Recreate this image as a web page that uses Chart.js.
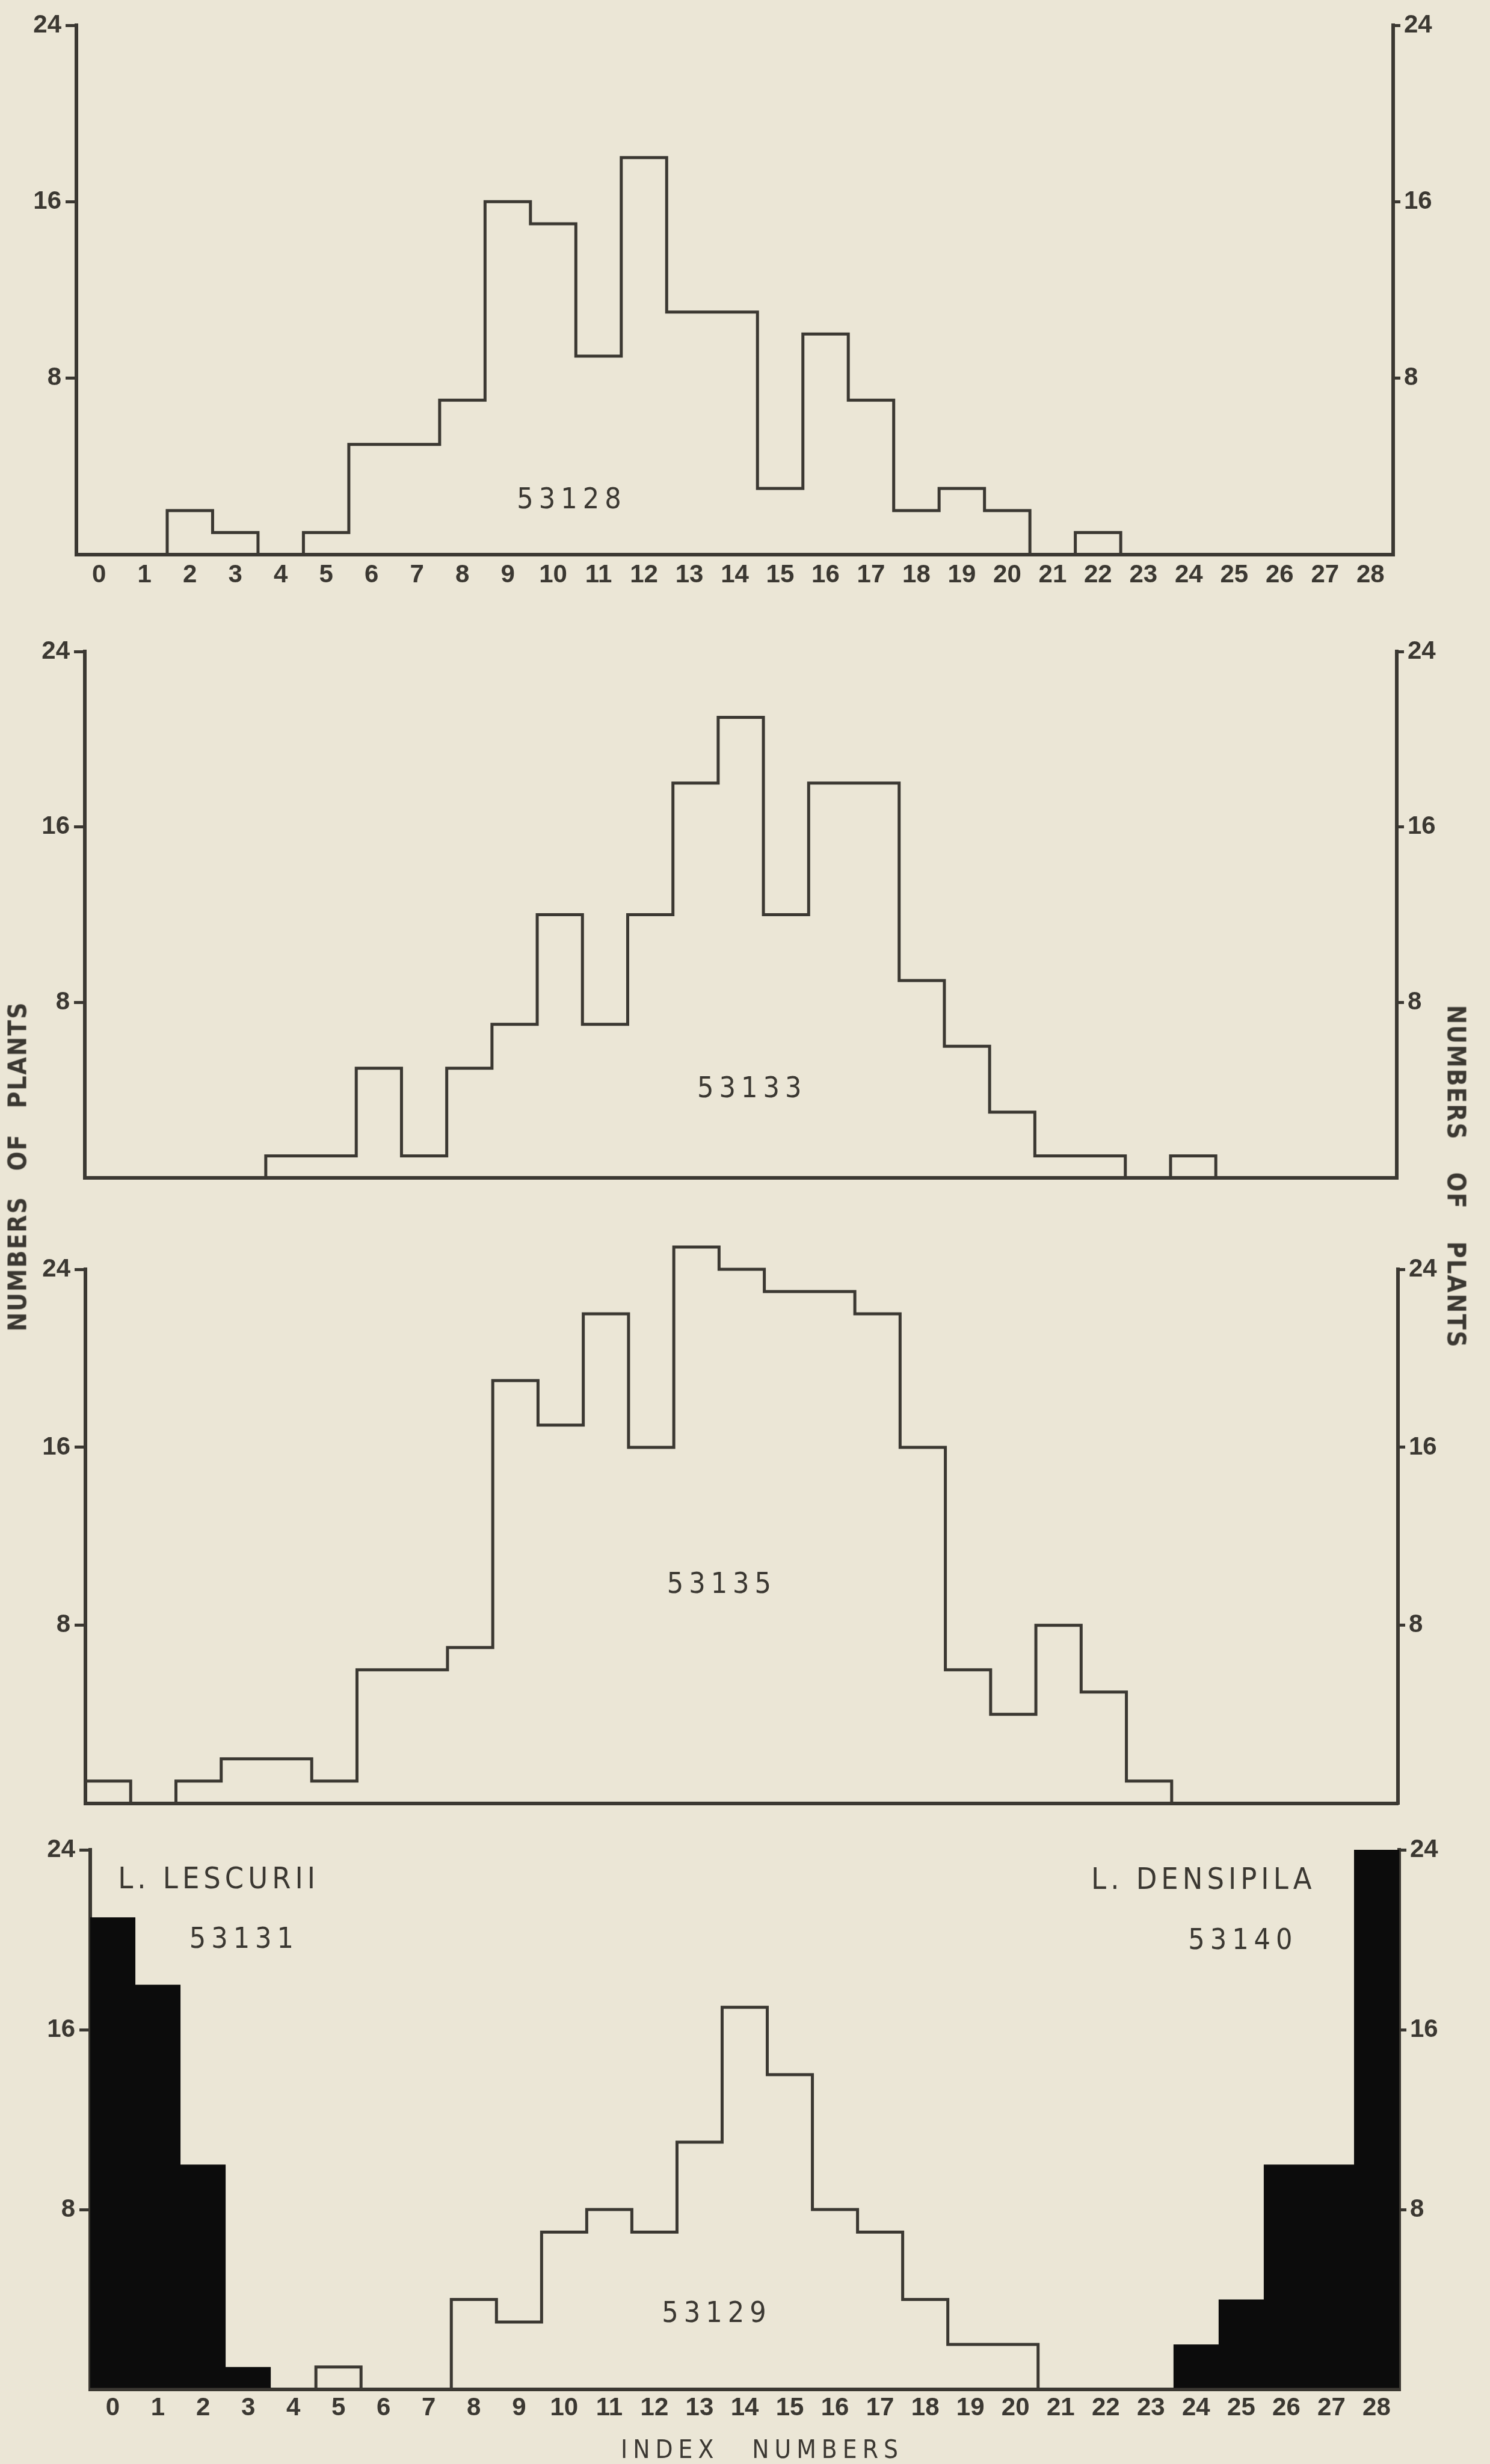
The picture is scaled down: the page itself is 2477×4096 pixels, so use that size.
<!DOCTYPE html>
<html>
<head>
<meta charset="utf-8">
<script src="https://cdn.jsdelivr.net/npm/chart.js@4.4.1/dist/chart.umd.min.js"></script>
<style>
html, body { margin: 0; padding: 0; background: #ebe6d6; }
body { width: 2477px; height: 4096px; position: relative; overflow: hidden; }
canvas { position: absolute; left: 0; }
.t { position: absolute; white-space: nowrap; color: #3b3832; line-height: 1; }
</style>
</head>
<body>
<canvas id="c1" width="2477" height="1000" style="top:0px"></canvas>
<canvas id="c2" width="2477" height="1000" style="top:1000px"></canvas>
<canvas id="c3" width="2477" height="1000" style="top:2030px"></canvas>
<canvas id="c4" width="2477" height="1066" style="top:3030px"></canvas>

<div class="t" id="ylabL" style="left:29px; top:1939px; transform:translate(-50%,-50%) rotate(-90deg); font:bold 42px 'Liberation Sans Narrow','DejaVu Sans Condensed','Liberation Sans',sans-serif; letter-spacing:2px; word-spacing:27px;">NUMBERS OF PLANTS</div>
<div class="t" id="ylabR" style="left:2421px; top:1956px; transform:translate(-50%,-50%) rotate(90deg); font:bold 42px 'Liberation Sans Narrow','DejaVu Sans Condensed','Liberation Sans',sans-serif; letter-spacing:2px; word-spacing:38px;">NUMBERS OF PLANTS</div>
<div class="t" id="xlab" style="left:1267px; top:4071px; transform:translate(-50%,-50%); font:42px 'Liberation Sans Narrow','DejaVu Sans Condensed','Liberation Sans',sans-serif; letter-spacing:9px; word-spacing:34px;">INDEX NUMBERS</div>

<script>
// ---- data ----
const indexNumbers = [0,1,2,3,4,5,6,7,8,9,10,11,12,13,14,15,16,17,18,19,20,21,22,23,24,25,26,27,28];
const yTickValues = [8, 16, 24];

const counts53128 = [0,0,2,1,0,1,5,5,7,16,15,9,18,11,11,3,10,7,2,3,2,0,1,0,0,0,0,0,0];
const counts53133 = [0,0,0,0,1,1,5,1,5,7,12,7,12,18,21,12,18,18,9,6,3,1,1,0,1,0,0,0,0];
const counts53135 = [1,0,1,2,2,1,6,6,7,19,17,22,16,25,24,23,23,22,16,6,4,8,5,1,0,0,0,0,0];
const counts53129 = [0,0,0,0,0,1,0,0,4,3,7,8,7,11,17,14,8,7,4,2,2,0,0,0,0,0,0,0,0];
const countsLescurii53131  = [21,18,10,1,0,0,0,0,0,0,0,0,0,0,0,0,0,0,0,0,0,0,0,0,0,0,0,0,0];
const countsDensipila53140 = [0,0,0,0,0,0,0,0,0,0,0,0,0,0,0,0,0,0,0,0,0,0,0,0,2,4,10,10,24];

// ---- styling ----
const INK = '#3b3832';
const BLACK = '#0c0c0c';
const W = 2477;
const NARROW = "'Liberation Sans Narrow','DejaVu Sans Condensed','Liberation Sans',sans-serif";
const TICKFONT = "'Liberation Sans','DejaVu Sans',sans-serif";

// histogram bins as a stepped line: each value holds across its bin [i-0.5, i+0.5]
function stepPoints(values) {
  const pts = values.map((v, i) => ({ x: indexNumbers[i] - 0.5, y: v }));
  pts.push({ x: indexNumbers[indexNumbers.length - 1] + 0.5, y: 0 });
  return pts;
}

const panelTextPlugin = {
  id: 'panelText',
  afterDatasetsDraw(chart, args, opts) {
    const ctx = chart.ctx;
    const xs = chart.scales.x, ys = chart.scales.y;
    (opts.items || []).forEach(it => {
      ctx.save();
      ctx.font = it.font;
      ctx.fillStyle = INK;
      ctx.textAlign = 'center';
      ctx.textBaseline = 'middle';
      const sp = it.spacing || 0;
      ctx.letterSpacing = sp + 'px';
      ctx.fillText(it.text, xs.getPixelForValue(it.x) + sp / 2, ys.getPixelForValue(it.y));
      ctx.restore();
    });
  }
};

const NUMFONT = "48px " + NARROW;
const NAMEFONT = "50px " + NARROW;

const panels = [
  { id: 'c1', top: 0, height: 1000, T: 42, B: 922, L: 127, R: 2316, xLabels: true, xPad: 9,
    series: [{ label: '53128', values: counts53128, fill: false }],
    texts: [{ text: '53128', x: 10.35, y: 2.45, font: NUMFONT, spacing: 9 }] },
  { id: 'c2', top: 1000, height: 1000, T: 1083, B: 1958, L: 141, R: 2322, xLabels: false, xPad: 0,
    series: [{ label: '53133', values: counts53133, fill: false }],
    texts: [{ text: '53133', x: 14.19, y: 4.03, font: NUMFONT, spacing: 9 }] },
  { id: 'c3', top: 2030, height: 1000, T: 2110, B: 2998, L: 142, R: 2324, xLabels: false, xPad: 0,
    series: [{ label: '53135', values: counts53135, fill: false }],
    texts: [{ text: '53135', x: 13.5, y: 9.78, font: NUMFONT, spacing: 9 }] },
  { id: 'c4', top: 3030, height: 1066, T: 3075, B: 3972, L: 150, R: 2326, xLabels: true, xPad: 6,
    series: [
      { label: 'L. LESCURII 53131', values: countsLescurii53131, fill: true },
      { label: 'L. DENSIPILA 53140', values: countsDensipila53140, fill: true },
      { label: '53129', values: counts53129, fill: false }
    ],
    texts: [
      { text: '53129', x: 13.32, y: 3.32, font: NUMFONT, spacing: 9 },
      { text: 'L. LESCURII', x: 2.30, y: 22.64, font: NAMEFONT, spacing: 7 },
      { text: '53131', x: 2.85, y: 19.96, font: NUMFONT, spacing: 9 },
      { text: 'L. DENSIPILA', x: 24.12, y: 22.61, font: NAMEFONT, spacing: 7 },
      { text: '53140', x: 24.98, y: 19.91, font: NUMFONT, spacing: 9 }
    ] }
];

function yAxis(position, widthFn, tickLen, pad) {
  return {
    type: 'linear', position: position, min: 0, max: 24,
    afterBuildTicks: s => { s.ticks = yTickValues.map(v => ({ value: v })); },
    afterFit: s => { s.width = widthFn(); },
    grid: { drawOnChartArea: false, drawTicks: true, tickLength: tickLen, color: INK, lineWidth: 5 },
    border: { display: true, color: INK, width: 6 },
    ticks: { padding: pad, color: INK, font: { family: TICKFONT, weight: 'bold', size: 42 }, callback: v => String(v) }
  };
}

panels.forEach(p => {
  const datasets = p.series.map(s => ({
    label: s.label,
    data: stepPoints(s.values),
    stepped: 'before',
    borderColor: s.fill ? BLACK : INK,
    borderWidth: s.fill ? 0 : 5,
    backgroundColor: BLACK,
    fill: s.fill ? 'origin' : false,
    pointRadius: 0,
    tension: 0,
    clip: false,
    yAxisID: 'y',
    xAxisID: 'x',
    order: s.fill ? 2 : 1
  }));
  new Chart(document.getElementById(p.id), {
    type: 'line',
    data: { datasets },
    options: {
      responsive: false,
      animation: false,
      events: [],
      layout: { padding: { top: p.T - p.top, left: 0, right: 0, bottom: 0 } },
      plugins: {
        legend: { display: false },
        tooltip: { enabled: false },
        panelText: { items: p.texts }
      },
      scales: {
        x: {
          type: 'linear', min: -0.5, max: 28.5,
          afterBuildTicks: s => { s.ticks = indexNumbers.map(v => ({ value: v })); },
          afterFit: s => { s.height = p.top + p.height - p.B; },
          grid: { display: false, drawTicks: false },
          border: { display: true, color: INK, width: 6 },
          ticks: { display: p.xLabels, autoSkip: false, maxRotation: 0, minRotation: 0, padding: p.xPad,
                   color: INK, font: { family: TICKFONT, weight: 'bold', size: 42 }, callback: v => String(v) }
        },
        y: yAxis('left', () => p.L, 18, 7),
        y2: yAxis('right', () => W - p.R, 12, 6)
      }
    },
    plugins: [panelTextPlugin]
  });
});
</script>
</body>
</html>
